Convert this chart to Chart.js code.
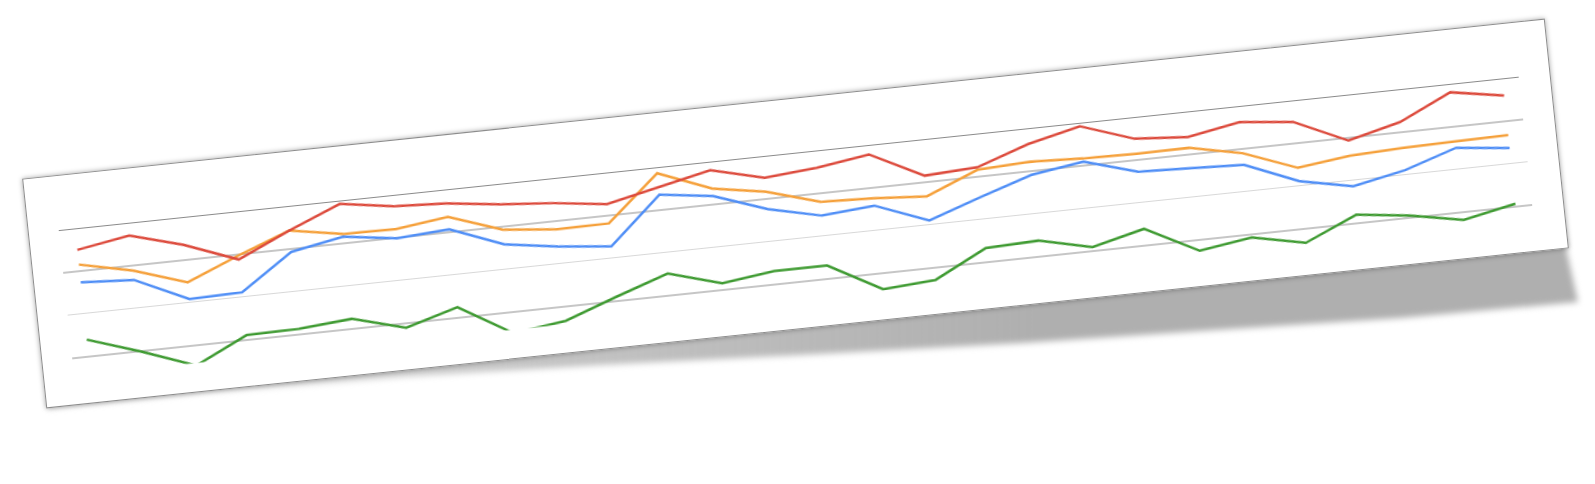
<!DOCTYPE html>
<html>
<head>
<meta charset="utf-8">
<script src="https://cdn.jsdelivr.net/npm/chart.js@4.4.1/dist/chart.umd.min.js"></script>
<style>
  html, body { margin:0; padding:0; background:#fff; overflow:hidden; }
  body { width:1595px; height:484px; position:relative; }
  .sombra { position:absolute; left:0; top:0; width:1595px; height:484px; filter:blur(3px); }
  .sombra div {
    position:absolute; left:0; top:0; width:100%; height:100%;
    background:linear-gradient(90deg, rgba(175,175,175,0.3) 0%, rgba(175,175,175,0.75) 35%, #afafaf 65%);
    clip-path:polygon(60px 260px, 1530px 80px, 1566px 248px, 1578px 302px, 1400px 318px, 1200px 331px,
      1022px 343px, 800px 355px, 600px 365px, 400px 377px, 200px 393px, 48px 409px);
  }
  .cartao {
    position:absolute; left:29.5px; top:97.5px; width:1531px; height:231px;
    box-sizing:border-box; background:#fff; border:1px solid #8d8d8d;
    box-shadow:0 0 5px rgba(0,0,0,0.35);
    transform:rotate(-6deg);
  }
  .cartao canvas { position:absolute; left:-1px; top:-1px; }
</style>
</head>
<body>
<div class="sombra"><div></div></div>
<div class="cartao"><canvas id="grafico" width="1531" height="231"></canvas></div>
<script>
(function(){
  const periodos = ['1','2','3','4','5','6','7','8','9','10','11','12','13','14',
    '15','16','17','18','19','20','21','22','23','24','25','26','27','28'];
  const serieVermelha = [87.4, 92.5, 83.8, 72.0, 85.6, 98.1, 93.4, 91.9, 88.0, 85.5, 81.7, 88.3, 95.0, 87.3,
    89.9, 94.5, 78.8, 80.4, 90.8, 98.0, 87.4, 85.1, 90.6, 87.5, 73.3, 80.9, 95.1, 89.9];
  const serieLaranja = [78.8, 72.0, 61.9, 74.3, 85.7, 80.5, 80.1, 83.9, 73.2, 70.1, 70.4, 96.5, 84.3, 79.2,
    70.0, 68.8, 66.7, 79.0, 80.5, 79.1, 78.6, 78.9, 72.4, 60.6, 64.5, 65.7, 66.3, 66.7];
  const serieAzul = [68.4, 66.5, 52.1, 52.8, 73.2, 78.8, 74.6, 76.7, 64.6, 60.1, 56.9, 84.0, 79.9, 69.0,
    61.9, 64.5, 52.5, 62.9, 72.7, 77.3, 68.1, 66.9, 65.6, 52.8, 46.5, 52.7, 62.6, 59.2];
  const serieVerde = [34.8, 24.5, 13.1, 27.7, 28.2, 30.7, 22.2, 31.0, 12.5, 16.5, 27.4, 37.8, 28.8, 32.6,
    32.6, 15.5, 17.7, 33.1, 34.2, 27.2, 34.6, 18.5, 23.1, 16.6, 29.9, 26.1, 20.3, 26.5];
  const linhasGrade = [25, 50, 75, 100];
  const eixoMin = 14.6;
  const eixoMax = 100;

  // estilo de cada linha de grade (a de cima e mais escura)
  const estiloGrade = {
    100: { cor: '#8a8a8a', largura: 1 },
    75:  { cor: '#c6c6c6', largura: 2 },
    50:  { cor: '#d8d8d8', largura: 1 },
    25:  { cor: '#c6c6c6', largura: 2 }
  };

  function pontos(valores){
    return valores.map((v, i) => ({ x: i, y: v }));
  }

  function serie(nome, valores, cor){
    return {
      label: nome,
      data: pontos(valores),
      borderColor: cor,
      backgroundColor: cor,
      borderWidth: 2.5,
      pointRadius: 0,
      tension: 0,
      fill: false
    };
  }

  const ctx = document.getElementById('grafico');
  new Chart(ctx, {
    type: 'line',
    data: {
      labels: periodos,
      datasets: [
        serie('Azul', serieAzul, '#4f8ef6'),
        serie('Vermelho', serieVermelha, '#dc4a3c'),
        serie('Laranja', serieLaranja, '#f5a03a'),
        serie('Verde', serieVerde, '#3e9a31')
      ]
    },
    options: {
      responsive: false,
      animation: false,
      layout: { padding: { left: 31, right: 32, top: 55, bottom: 29.5 } },
      plugins: { legend: { display: false }, tooltip: { enabled: false } },
      scales: {
        x: {
          type: 'linear',
          min: -0.31,
          max: periodos.length - 1 + 0.31,
          display: false
        },
        y: {
          min: eixoMin,
          max: eixoMax,
          afterBuildTicks: escala => { escala.ticks = linhasGrade.map(v => ({ value: v })); },
          ticks: { display: false },
          border: { display: false },
          grid: {
            drawTicks: false,
            color: c => (estiloGrade[c.tick && c.tick.value] || { cor: 'rgba(0,0,0,0)' }).cor,
            lineWidth: c => (estiloGrade[c.tick && c.tick.value] || { largura: 0 }).largura
          }
        }
      }
    }
  });
})();
</script>
</body>
</html>
